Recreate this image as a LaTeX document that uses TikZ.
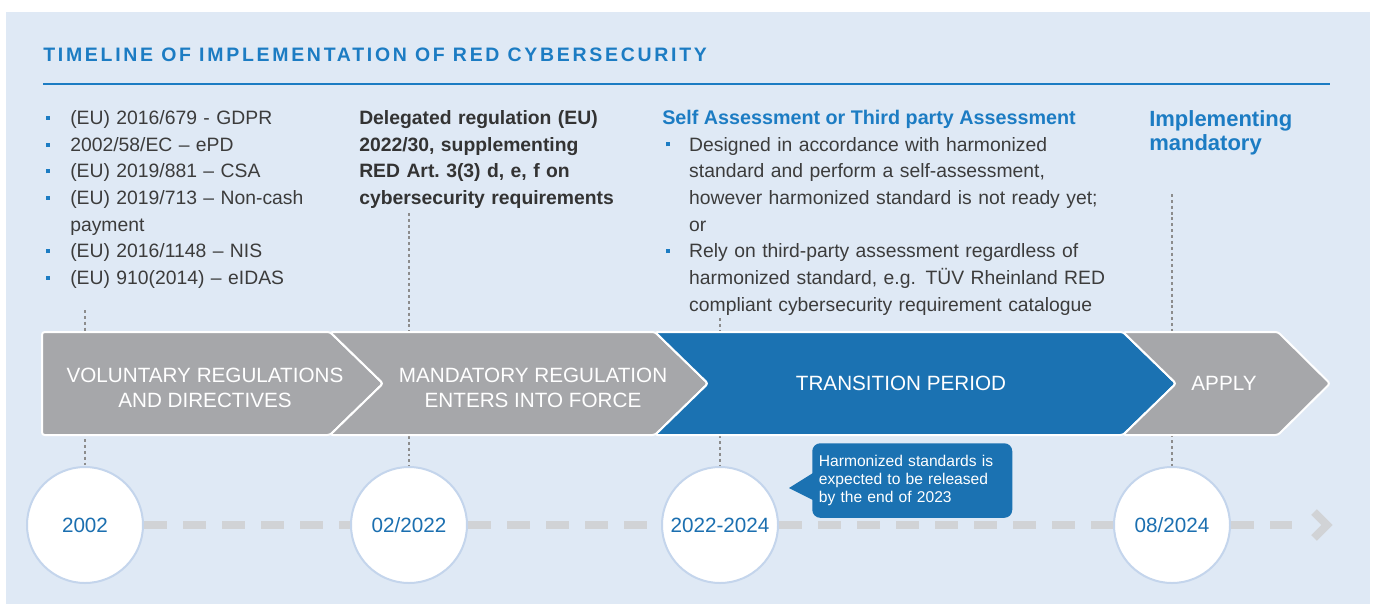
\documentclass[tikz,border=0pt]{standalone}
\usepackage{fontspec}
\setmainfont{Liberation Sans}
\newfontfamily\titlefont[LetterSpace=14]{Liberation Sans}
\usepackage{tikz}
\usepackage{color}
\usetikzlibrary{arrows}

\definecolor{panelbg}{HTML}{DFE9F5}
\definecolor{headblue}{HTML}{1C7CC3}
\definecolor{tuvblue}{HTML}{1B72B2}
\definecolor{dateblue}{HTML}{1B6FB0}
\definecolor{chevgray}{HTML}{A6A7AA}
\definecolor{textgray}{HTML}{3C3C3C}
\definecolor{ringblue}{HTML}{C4D5EC}
\definecolor{linegray}{HTML}{D1D3D6}
\definecolor{guidegray}{HTML}{8C8C8C}

% bullet with hanging indent
\newcommand{\bitem}[1]{\hangindent=#1\hangafter=1\makebox[#1][l]{\textcolor{headblue}{\rule[3.4pt]{3pt}{3pt}}}}

\begin{document}
\begin{tikzpicture}[x=0.75pt, y=-0.75pt,
  body/.style={anchor=base west, inner sep=0, align=left, text=textgray, font=\fontsize{14.5}{20}\selectfont},
  chev/.style={draw=white, line width=1.5pt, line join=round, rounded corners=2pt},
  chevtxt/.style={text=white, align=center, font=\fontsize{15.5}{18.75}\selectfont},
  yrring/.style={circle, fill=white, draw=ringblue, line width=1.5pt, minimum size=87pt, inner sep=0, text=dateblue, font=\fontsize{15.5}{18}\selectfont},
  guide/.style={guidegray, line width=1pt, dash pattern=on 2.2pt off 2.2pt},
  timeline/.style={linegray, line width=6pt, dash pattern=on 17.25pt off 12pt},
  callbox/.style={fill=tuvblue, rounded corners=6pt, text=white, text width=140pt, inner xsep=5pt, inner ysep=9pt, align=left, font=\fontsize{11.7}{13.5}\selectfont}]
\useasboundingbox (0,0) rectangle (1375,604);
\fill[white] (0,0) rectangle (1375,604);
\fill[panelbg] (6,12) rectangle (1370,604);

\draw (43,61.7) node (Title) [anchor=base west, inner sep=0, text=headblue, font=\titlefont\bfseries\fontsize{14.6}{16}\selectfont]
    {TIMELINE OF IMPLEMENTATION OF RED CYBERSECURITY};
\draw[headblue, line width=1.5pt] (43,84) -- (1330,84);

\draw (46,124.5) node (Dirs) [body, text width=240pt]
    {\bitem{18pt}(EU) 2016/679 - GDPR\par
     \bitem{18pt}2002/58/EC -- ePD\par
     \bitem{18pt}(EU) 2019/881 -- CSA\par
     \bitem{18pt}(EU) 2019/713 -- Non-cash\newline payment\par
     \bitem{18pt}(EU) 2016/1148 -- NIS\par
     \bitem{18pt}(EU) 910(2014) -- eIDAS\par};
\draw (359,124.5) node (Deleg) [body, text width=230pt, font=\bfseries\fontsize{14.5}{20}\selectfont, text=black!80]
    {Delegated regulation (EU)\newline 2022/30, supplementing\newline RED Art.\ 3(3) d, e, f on\newline cybersecurity requirements};
\draw (662,124.5) node (AssHd) [body, text=headblue, font=\bfseries\fontsize{14.8}{20}\selectfont]
    {Self Assessment or Third party Assessment};
\draw (665.5,151) node (Assess) [body, text width=340pt]
    {\bitem{17.6pt}Designed in accordance with harmonized\newline standard and perform a self-assessment,\newline however harmonized standard is not ready yet;\newline or\par
     \bitem{17.6pt}Rely on third-party assessment regardless of\newline harmonized standard, e.g. TÜV Rheinland RED\newline compliant cybersecurity requirement catalogue\par};
\draw (1149,126) node (Impl) [body, text width=150pt, text=headblue, font=\bfseries\fontsize{16.5}{18}\selectfont]
    {Implementing\newline mandatory};

% date rings
\draw (85,525) node (Yr02) [yrring] {2002};
\draw (409,525) node (Yr22) [yrring] {02/2022};
\draw (720,525) node (YrTr) [yrring] {2022-2024};
\draw (1172,525) node (Yr24) [yrring] {08/2024};

\coordinate (G1) at (85,310);
\coordinate (G2) at (409,213);
\coordinate (G3) at (720,318);
\coordinate (G4) at (1172,194);
\draw[guide] (G1) -- (Yr02);
\draw[guide] (G2) -- (Yr22);
\draw[guide] (G3) -- (YrTr);
\draw[guide] (G4) -- (Yr24);

% phases
\fill[chevgray, chev] (42,332) -- (330,332) -- (383,383.5) -- (330,435) -- (42,435) -- cycle;
\fill[chevgray, chev] (330,332) -- (655,332) -- (708,383.5) -- (655,435) -- (330,435) -- (383,383.5) -- cycle;
\fill[tuvblue, chev] (655,332) -- (1123,332) -- (1176,383.5) -- (1123,435) -- (655,435) -- (708,383.5) -- cycle;
\fill[chevgray, chev] (1123,332) -- (1278,332) -- (1330,383.5) -- (1278,435) -- (1123,435) -- (1176,383.5) -- cycle;

\draw (205,388) node (Vol) [chevtxt] {VOLUNTARY REGULATIONS\\AND DIRECTIVES};
\draw (533,388) node (Mand) [chevtxt] {MANDATORY REGULATION\\ENTERS INTO FORCE};
\draw (901,383) node (Trans) [chevtxt] {TRANSITION PERIOD};
\draw (1224,383) node (Appl) [chevtxt] {APPLY};

% time axis
\coordinate (TlEnd) at (1292,525);
\draw[timeline] (Yr02) -- (Yr22);
\draw[timeline] (Yr22) -- (YrTr);
\draw[timeline] (YrTr) -- (Yr24);
\draw[timeline] (Yr24) -- (TlEnd);
\draw[linegray, line width=6pt] (1314,512) -- (1327,525) -- (1314,538);

\draw (812,443) node (Harm) [callbox, anchor=north west]
    {Harmonized standards is\\expected to be released\\by the end of 2023};
\fill[tuvblue] (813,473) -- (789,488) -- (813,500) -- cycle;

\end{tikzpicture}
\end{document}
